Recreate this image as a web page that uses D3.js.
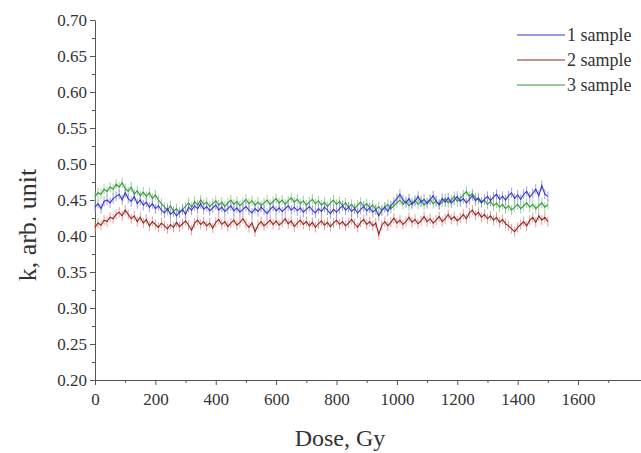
<!DOCTYPE html>
<html lang="en">
<head>
<meta charset="utf-8">
<title>k vs Dose</title>
<script src="https://cdn.jsdelivr.net/npm/d3@7/dist/d3.min.js"></script>
<style>
  body { margin: 0; background: #fff; }
  svg { display: block; }
  .axis path, .axis line { stroke: #555; }
</style>
</head>
<body>
<script>
// dose grid: 0..1500 Gy every 10 Gy
var doseStep = 10;

var sample1 = [
  0.440,0.445,0.438,0.448,0.450,0.446,0.452,0.455,0.458,0.450,0.460,
  0.452,0.448,0.455,0.445,0.450,0.443,0.447,0.440,0.445,0.438,
  0.442,0.436,0.432,0.438,0.430,0.434,0.428,0.433,0.437,0.430,
  0.440,0.436,0.442,0.438,0.445,0.437,0.441,0.435,0.439,0.443,
  0.436,0.440,0.434,0.438,0.442,0.435,0.439,0.433,0.437,0.441,
  0.436,0.432,0.438,0.434,0.440,0.436,0.431,0.437,0.441,0.435,
  0.439,0.434,0.438,0.442,0.436,0.440,0.435,0.439,0.433,0.437,
  0.441,0.436,0.432,0.438,0.434,0.440,0.436,0.431,0.437,0.433,
  0.438,0.442,0.436,0.440,0.434,0.438,0.432,0.437,0.441,0.435,
  0.439,0.433,0.437,0.428,0.436,0.440,0.434,0.442,0.447,0.452,
  0.458,0.450,0.446,0.452,0.444,0.448,0.455,0.447,0.451,0.445,
  0.450,0.456,0.448,0.444,0.452,0.447,0.453,0.446,0.450,0.455,
  0.448,0.452,0.446,0.451,0.456,0.449,0.453,0.447,0.451,0.455,
  0.449,0.454,0.458,0.451,0.455,0.450,0.456,0.460,0.452,0.457,
  0.451,0.458,0.462,0.454,0.459,0.465,0.456,0.470,0.458,0.455
];

var sample2 = [
  0.412,0.418,0.415,0.422,0.420,0.426,0.424,0.430,0.433,0.428,0.436,
  0.430,0.424,0.428,0.420,0.426,0.418,0.423,0.414,0.420,0.416,
  0.412,0.418,0.414,0.410,0.416,0.412,0.419,0.413,0.417,0.421,
  0.415,0.408,0.418,0.422,0.416,0.420,0.414,0.418,0.411,0.419,
  0.423,0.416,0.420,0.413,0.418,0.422,0.415,0.419,0.424,0.417,
  0.412,0.418,0.406,0.415,0.420,0.414,0.418,0.422,0.416,0.421,
  0.415,0.419,0.424,0.417,0.421,0.413,0.418,0.422,0.416,0.420,
  0.414,0.419,0.412,0.417,0.421,0.415,0.419,0.413,0.418,0.422,
  0.416,0.420,0.414,0.418,0.423,0.417,0.412,0.419,0.423,0.416,
  0.420,0.414,0.418,0.402,0.415,0.420,0.414,0.419,0.425,0.418,
  0.422,0.416,0.420,0.426,0.419,0.423,0.417,0.421,0.427,0.420,
  0.424,0.418,0.422,0.427,0.420,0.424,0.430,0.423,0.427,0.421,
  0.425,0.430,0.424,0.432,0.436,0.429,0.433,0.426,0.430,0.424,
  0.428,0.422,0.426,0.419,0.423,0.417,0.414,0.410,0.406,0.412,
  0.416,0.420,0.414,0.422,0.426,0.419,0.428,0.422,0.426,0.420
];

var sample3 = [
  0.455,0.460,0.458,0.465,0.462,0.468,0.465,0.472,0.468,0.474,0.466,
  0.462,0.468,0.458,0.463,0.456,0.461,0.455,0.460,0.452,0.457,
  0.450,0.445,0.440,0.436,0.442,0.434,0.438,0.432,0.437,0.441,
  0.446,0.440,0.448,0.443,0.450,0.444,0.447,0.441,0.445,0.449,
  0.443,0.447,0.441,0.446,0.450,0.444,0.448,0.442,0.446,0.451,
  0.445,0.449,0.443,0.447,0.442,0.446,0.450,0.444,0.448,0.452,
  0.446,0.450,0.444,0.449,0.453,0.447,0.451,0.445,0.449,0.443,
  0.447,0.451,0.445,0.449,0.443,0.447,0.441,0.446,0.450,0.444,
  0.448,0.442,0.446,0.440,0.444,0.438,0.443,0.447,0.441,0.445,
  0.439,0.443,0.437,0.441,0.435,0.440,0.444,0.438,0.442,0.446,
  0.450,0.444,0.448,0.442,0.446,0.450,0.444,0.449,0.443,0.447,
  0.451,0.445,0.449,0.443,0.447,0.452,0.446,0.450,0.455,0.448,
  0.452,0.457,0.462,0.455,0.459,0.453,0.450,0.446,0.450,0.444,
  0.448,0.442,0.446,0.440,0.444,0.438,0.442,0.436,0.440,0.444,
  0.438,0.442,0.446,0.440,0.444,0.438,0.442,0.446,0.440,0.444
];

var seriesNames = ["1 sample", "2 sample", "3 sample"];
var seriesErr = [0.007, 0.007, 0.007];
var xTicks = [0, 200, 400, 600, 800, 1000, 1200, 1400, 1600];
var yTicks = [0.20, 0.25, 0.30, 0.35, 0.40, 0.45, 0.50, 0.55, 0.60, 0.65, 0.70];

var lineColors = ["#3434c8", "#8a2626", "#37943a"];
var errColors = ["#9c9ce8", "#eb9c94", "#98d49a"];

var W = 641, H = 453;
var x0 = 95, yTop = 20, yBot = 380;
var serif = "'Liberation Serif', 'Times New Roman', serif";

var svg = d3.select("body").append("svg")
    .attr("width", W).attr("height", H);

var x = d3.scaleLinear().domain([0, 1815]).range([x0, x0 + 1815 * 0.3019]);
var y = d3.scaleLinear().domain([0.2, 0.7]).range([yBot, yTop]);

var allSeries = [sample1, sample2, sample3].map(function(vals, i) {
  return vals.map(function(v, j) { return {dose: j * doseStep, k: v, err: seriesErr[i]}; });
});

function styleAxis(g) {
  g.attr("font-family", serif).attr("font-size", 17);
  g.selectAll("text").attr("fill", "#333");
}

// axes
var xAxis = d3.axisBottom(x).tickValues(xTicks).tickSize(5).tickSizeOuter(0)
    .tickFormat(d3.format("d"));
svg.append("g").attr("class", "axis")
    .attr("transform", "translate(0," + yBot + ")")
    .call(xAxis)
    .call(styleAxis)
    .call(function(g) { g.selectAll("text").attr("dy", "1.0em"); });
svg.append("g").attr("class", "axis")
    .attr("transform", "translate(0," + yBot + ")")
    .call(d3.axisBottom(x).tickValues(d3.range(100, 1800, 200)).tickSize(3).tickFormat(""))
    .call(function(g) { g.select(".domain").remove(); });

var yAxis = d3.axisLeft(y).tickValues(yTicks).tickSize(5).tickSizeOuter(0)
    .tickFormat(d3.format(".2f"));
svg.append("g").attr("class", "axis")
    .attr("transform", "translate(" + x0 + ",0)")
    .call(yAxis)
    .call(styleAxis);
svg.append("g").attr("class", "axis")
    .attr("transform", "translate(" + x0 + ",0)")
    .call(d3.axisLeft(y).tickValues(d3.range(0.225, 0.7, 0.05)).tickSize(3).tickFormat(""))
    .call(function(g) { g.select(".domain").remove(); });

// error bars then lines
var drawOrder = [2, 1, 0];
drawOrder.forEach(function(i) {
  svg.append("g").selectAll("line")
    .data(allSeries[i]).enter().append("line")
    .attr("x1", function(d) { return x(d.dose); })
    .attr("x2", function(d) { return x(d.dose); })
    .attr("y1", function(d) { return y(d.k - d.err); })
    .attr("y2", function(d) { return y(d.k + d.err); })
    .attr("stroke", errColors[i]).attr("stroke-width", 1);
});

var line = d3.line().x(function(d) { return x(d.dose); }).y(function(d) { return y(d.k); });
drawOrder.forEach(function(i) {
  svg.append("path").datum(allSeries[i])
    .attr("d", line).attr("fill", "none")
    .attr("stroke", lineColors[i]).attr("stroke-width", 1.1);
});

// legend
var legend = svg.append("g");
seriesNames.forEach(function(name, i) {
  var ly = 35 + i * 25;
  legend.append("line").attr("x1", 517).attr("x2", 565).attr("y1", ly).attr("y2", ly)
    .attr("stroke", lineColors[i]).attr("stroke-width", 1.2);
  legend.append("text").attr("x", 567).attr("y", ly + 6)
    .attr("font-family", serif).attr("font-size", 18).attr("fill", "#333")
    .text(name);
});

// axis titles
svg.append("text").attr("x", 340).attr("y", 446).attr("text-anchor", "middle")
  .attr("font-family", serif).attr("font-size", 24).attr("fill", "#333")
  .text("Dose, Gy");
svg.append("text").attr("transform", "translate(36,225) rotate(-90)").attr("text-anchor", "middle")
  .attr("font-family", serif).attr("font-size", 26).attr("fill", "#333")
  .text("k, arb. unit");
</script>
</body>
</html>
